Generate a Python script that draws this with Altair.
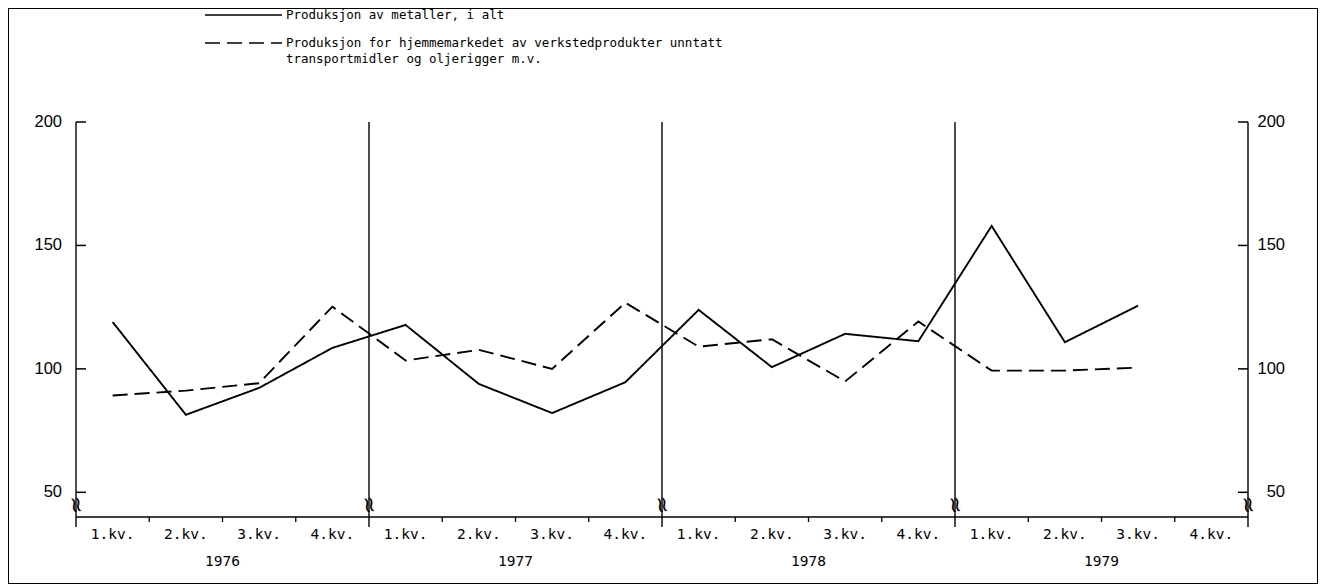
import altair as alt
import pandas as pd

# ---------------- data ----------------
years = ["1976", "1977", "1978", "1979"]
quarter_labels = ["1.kv.", "2.kv.", "3.kv.", "4.kv."]
series_names = [
    "Produksjon av metaller, i alt",
    "Produksjon for hjemmemarkedet av verkstedprodukter unntatt transportmidler og oljerigger m.v.",
]
legend_lines = [
    ["Produksjon av metaller, i alt"],
    ["Produksjon for hjemmemarkedet av verkstedprodukter unntatt",
     "transportmidler og oljerigger m.v."],
]
# quarterly values 1976 Q1 ... 1979 Q3
metals = [119.0, 81.4, 92.3, 108.5, 117.8, 93.9, 82.1, 94.6,
          123.9, 100.7, 114.2, 111.2, 157.9, 110.8, 125.6]
home_market = [89.2, 91.2, 94.2, 125.2, 103.4, 107.7, 100.0, 126.8,
               109.0, 112.0, 94.9, 119.2, 99.3, 99.3, 100.5]
y_ticks = [50, 100, 150, 200]

# ---------------- geometry (scale space) ----------------
W, H = 1310, 576
PX_Q = 73.25            # pixels per quarter
X0 = 68                 # view x of quarter 0
PX_V = 395 / 160        # pixels per index unit
Y200 = 114              # view y of value 200
XMIN = -X0 / PX_Q
XMAX = (W - X0) / PX_Q
YMAX = 200 + Y200 / PX_V
YMIN = 200 - (H - Y200) / PX_V
NQ = 16
YBASE = 40


def yval(view_y):
    return 200 - (view_y - Y200) / PX_V


def xval(view_x):
    return (view_x - X0) / PX_Q


xs = alt.Scale(domain=[XMIN, XMAX], nice=False, zero=False)
ys = alt.Scale(domain=[YMIN, YMAX], nice=False, zero=False)


def X(f):
    return alt.X(f, type="quantitative", scale=xs, axis=None)


def Y(f):
    return alt.Y(f, type="quantitative", scale=ys, axis=None)


dash = alt.StrokeDash(
    "series:N",
    scale=alt.Scale(domain=series_names, range=[[1, 0], [15, 7]]),
    legend=None,
)

rows = []
for s, vals in zip(series_names, [metals, home_market]):
    for i, v in enumerate(vals):
        rows.append({"series": s, "q": i + 0.5, "v": v})
df = pd.DataFrame(rows)

lines = alt.Chart(df).mark_line(color="black", strokeWidth=1.9).encode(
    x=X("q"), y=Y("v"), strokeDash=dash
)

# vertical lines: axes and year separators
vdf = pd.DataFrame({"x": [0, 4, 8, 12, 16], "y1": [yval(519)] * 5, "y2": [200] * 5})
vlines = alt.Chart(vdf).mark_rule(color="black", strokeWidth=1.4).encode(
    x=X("x"), y=Y("y1"), y2="y2"
)

# x axis baseline
bdf = pd.DataFrame({"x1": [0], "x2": [NQ], "y": [YBASE]})
baseline = alt.Chart(bdf).mark_rule(color="black", strokeWidth=1.7).encode(
    x=X("x1"), x2="x2", y=Y("y")
)

# quarter ticks hanging below baseline
qt = [k for k in range(1, NQ) if k % 4 != 0]
qdf = pd.DataFrame({"x": qt, "y1": [yval(514)] * len(qt), "y2": [YBASE] * len(qt)})
qticks = alt.Chart(qdf).mark_rule(color="black", strokeWidth=1.3).encode(
    x=X("x"), y=Y("y1"), y2="y2"
)

# y ticks, pointing inward on both sides
tk = []
for t in y_ticks:
    tk.append({"x1": 0, "x2": xval(X0 + 10), "y": t})
    tk.append({"x1": NQ, "x2": xval(X0 + NQ * PX_Q - 10), "y": t})
ydf = pd.DataFrame(tk)
yticks = alt.Chart(ydf).mark_rule(color="black", strokeWidth=1.5).encode(
    x=X("x1"), x2="x2", y=Y("y")
)

# y labels
ldf_l = pd.DataFrame({"x": [xval(54)] * 4, "y": y_ticks, "t": [str(t) for t in y_ticks]})
ldf_r = pd.DataFrame({"x": [xval(1277)] * 4, "y": y_ticks, "t": [str(t) for t in y_ticks]})
ylab_left = alt.Chart(ldf_l).mark_text(
    align="right", baseline="middle", font="Liberation Sans", fontSize=16.5, color="black"
).encode(x=X("x"), y=Y("y"), text="t:N")
ylab_right = alt.Chart(ldf_r).mark_text(
    align="right", baseline="middle", font="Liberation Sans", fontSize=16.5, color="black"
).encode(x=X("x"), y=Y("y"), text="t:N")

# break marks
brk = pd.DataFrame({"x": [0, 4, 8, 12, 16], "y": [yval(495)] * 5, "t": ["≈"] * 5})
breaks = alt.Chart(brk).mark_text(
    align="center", baseline="middle", font="DejaVu Sans", fontSize=22,
    color="black", dx=2, angle=80
).encode(x=X("x"), y=Y("y"), text="t:N")

# quarter labels
qlab = pd.DataFrame({
    "x": [i + 0.5 for i in range(NQ)],
    "y": [yval(527)] * NQ,
    "t": [quarter_labels[i % 4] for i in range(NQ)],
})
qlabels = alt.Chart(qlab).mark_text(
    align="center", baseline="middle", font="DejaVu Sans Mono", fontSize=14.5, color="black"
).encode(x=X("x"), y=Y("y"), text="t:N")

ylab = pd.DataFrame({"x": [i * 4 + 2 for i in range(4)], "y": [yval(554)] * 4, "t": years})
ylabels = alt.Chart(ylab).mark_text(
    align="center", baseline="middle", font="DejaVu Sans Mono", fontSize=14.5, color="black"
).encode(x=X("x"), y=Y("y"), text="t:N")

# legend (drawn by hand)
leg_rows = [yval(7), yval(35)]
legdf = pd.DataFrame({
    "series": series_names,
    "x1": [xval(197)] * 2,
    "x2": [xval(274)] * 2,
    "y": leg_rows,
})
leg_sym = alt.Chart(legdf).mark_rule(color="black", strokeWidth=1.6).encode(
    x=X("x1"), x2="x2", y=Y("y"), strokeDash=dash
)
lt = []
for r, block in zip(leg_rows, legend_lines):
    for j, line in enumerate(block):
        lt.append({"x": xval(278), "y": r - j * 16 / PX_V, "t": line})
legtxt = alt.Chart(pd.DataFrame(lt)).mark_text(
    align="left", baseline="middle", font="DejaVu Sans Mono", fontSize=12.5, color="black"
).encode(x=X("x"), y=Y("y"), text="t:N")

chart = alt.layer(
    vlines, baseline, qticks, yticks, ylab_left, ylab_right, breaks,
    qlabels, ylabels, leg_sym, legtxt, lines,
).properties(
    width=W, height=H, autosize="none", padding=0, background="white"
).configure_view(stroke="black", strokeWidth=2)

chart.save("out.html", embed_options={"renderer": "svg", "actions": False})
